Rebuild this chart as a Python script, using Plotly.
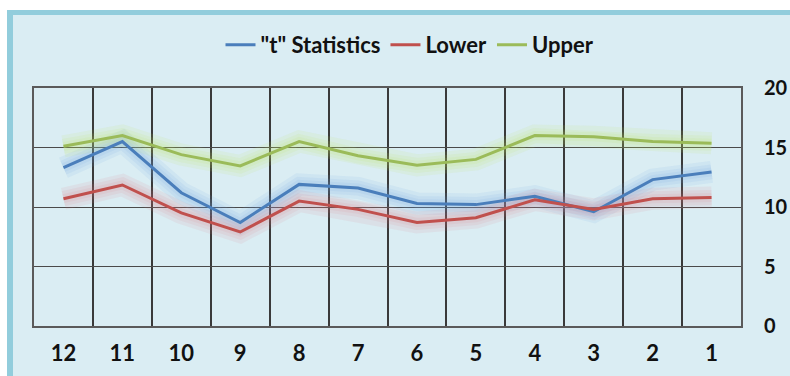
import plotly.graph_objects as go

# Month-lag categories (descending along the axis)
categories = ["12", "11", "10", "9", "8", "7", "6", "5", "4", "3", "2", "1"]

# Series values
t_stat = [13.3, 15.5, 11.2, 8.7, 11.9, 11.6, 10.3, 10.2, 10.9, 9.6, 12.3, 12.95]
lower = [10.7, 11.85, 9.5, 7.9, 10.5, 9.8, 8.7, 9.1, 10.6, 9.8, 10.7, 10.8]
upper = [15.1, 16.0, 14.4, 13.45, 15.5, 14.3, 13.5, 14.0, 16.0, 15.9, 15.5, 15.35]

y_ticks = [0, 5, 10, 15, 20]

series = [
    ('"t" Statistics', t_stat, "#4a7ebb", "rgba(110,160,230,0.11)"),
    ("Lower", lower, "#c0504d", "rgba(230,120,130,0.10)"),
    ("Upper", upper, "#9bbb59", "rgba(190,225,90,0.11)"),
]

fig = go.Figure()

# soft halo under each line
for name, vals, col, glow in series:
    for w in (22, 15, 9):
        fig.add_trace(go.Scatter(
            x=categories, y=vals, mode="lines",
            line=dict(color=glow, width=w),
            hoverinfo="skip", showlegend=False,
        ))

for name, vals, col, glow in series:
    fig.add_trace(go.Scatter(
        x=categories, y=vals, mode="lines", name=name,
        line=dict(color=col, width=3),
    ))

# chart-area background with its frame bands (plot area spans 34..741 x 88..326 px)
pw, ph = 707.0, 238.0
def px_x(v):
    return (v - 34) / pw
def px_y(v):
    return (326 - v) / ph

shapes = [
    dict(type="rect", xref="paper", yref="paper", layer="below",
         x0=px_x(7), x1=px_x(790), y0=px_y(376), y1=px_y(10),
         fillcolor="#daedf3", line=dict(width=0)),
    dict(type="rect", xref="paper", yref="paper", layer="below",
         x0=px_x(7), x1=px_x(790), y0=px_y(15), y1=px_y(10),
         fillcolor="#92cddc", line=dict(width=0)),
    dict(type="rect", xref="paper", yref="paper", layer="below",
         x0=px_x(7), x1=px_x(13), y0=px_y(376), y1=px_y(10),
         fillcolor="#92cddc", line=dict(width=0)),
]

label_font = dict(family="Lato", size=22, color="#111111", weight="bold")

fig.update_layout(
    width=790, height=376,
    margin=dict(l=34, r=49, t=88, b=50, autoexpand=False),
    paper_bgcolor="white",
    plot_bgcolor="rgba(0,0,0,0)",
    shapes=shapes,
    font=dict(family="Lato", size=22, color="#111111"),
    legend=dict(
        orientation="h", x=px_x(410), xanchor="center",
        y=px_y(45), yanchor="middle",
        font=label_font,
        bgcolor="rgba(0,0,0,0)",
    ),
    showlegend=True,
)

fig.update_xaxes(
    type="category", categoryorder="array", categoryarray=categories,
    range=[-0.5, len(categories) - 0.5],
    tickson="boundaries", showgrid=True, gridcolor="#3a3a3a", gridwidth=2,
    showline=True, linecolor="#5a5a5a", linewidth=2, mirror=True,
    ticks="", ticklabelstandoff=7, automargin=False,
    tickfont=label_font,
    zeroline=False, fixedrange=True,
)

fig.update_yaxes(
    side="right", range=[0, 20], tickvals=y_ticks,
    showgrid=True, gridcolor="#4a4a4a", gridwidth=1,
    showline=True, linecolor="#5a5a5a", linewidth=2, mirror=True,
    ticks="", ticklabelstandoff=17, automargin=False,
    tickfont=dict(family="Lato", size=20, color="#111111", weight="bold"),
    zeroline=False, fixedrange=True,
)

# keep the page flush with the figure (no body margin, no scrollbars)
page_css = (
    "document.documentElement.style.margin='0';"
    "document.body.style.margin='0';"
    "document.documentElement.style.overflow='hidden';"
    "document.body.style.overflow='hidden';"
)

fig.write_html("out.html", config=dict(displayModeBar=False), post_script=page_css)
